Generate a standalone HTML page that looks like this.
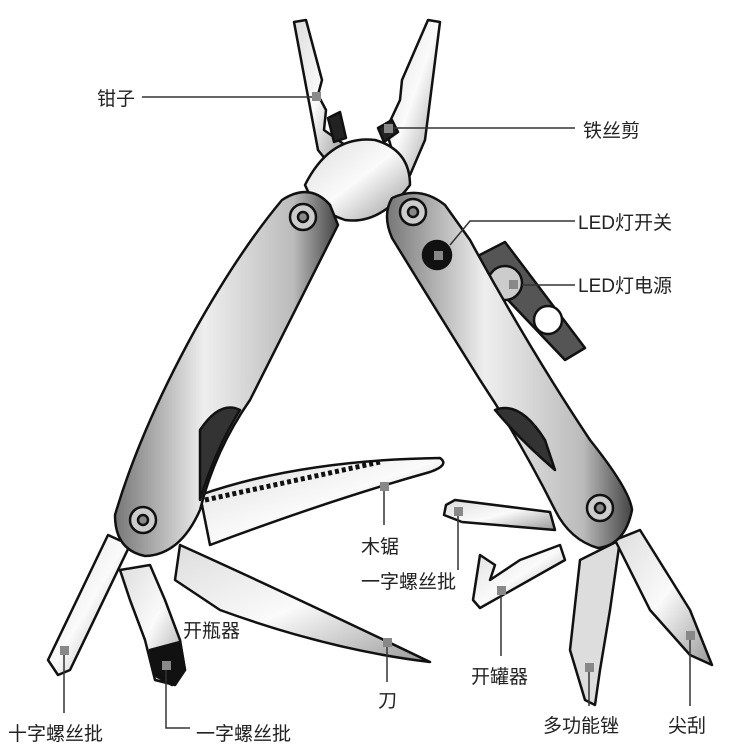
<!DOCTYPE html>
<html><head><meta charset="utf-8"><style>
html,body{margin:0;padding:0;background:#fff}
svg{display:block}
text{font-family:"Liberation Sans","Noto Sans CJK SC",sans-serif;font-size:19px;fill:#222}
</style></head><body>
<svg width="750" height="750" viewBox="0 0 750 750" xmlns="http://www.w3.org/2000/svg">
<defs>
<linearGradient id="g1" x1="0" y1="0" x2="1" y2="0"><stop offset="0" stop-color="#777"/><stop offset="0.4" stop-color="#eee"/><stop offset="0.8" stop-color="#bbb"/><stop offset="1" stop-color="#444"/></linearGradient>
<linearGradient id="g2" x1="0" y1="0" x2="1" y2="1"><stop offset="0" stop-color="#ddd"/><stop offset="0.5" stop-color="#fafafa"/><stop offset="1" stop-color="#999"/></linearGradient>
</defs>
<g stroke="#111" stroke-width="2.5" stroke-linejoin="round">
<!-- jaws -->
<path d="M294 22 L306 20 L322 80 L318 95 L326 110 L324 130 L345 145 L330 165 L318 150 Z" fill="url(#g2)"/>
<path d="M428 20 L440 22 L425 140 L410 175 L392 150 L386 130 L400 100 L402 80 Z" fill="url(#g2)"/>
<path d="M328 118 L340 112 L346 138 L334 142 Z" fill="#222"/>
<path d="M378 128 L392 120 L398 132 L384 142 Z" fill="#222"/>
<path d="M305 185 Q330 135 375 140 Q410 150 410 185 Q380 225 345 220 Q315 210 305 185 Z" fill="url(#g2)"/>
<!-- right-side battery box -->
<path d="M470 260 L505 242 L585 348 L565 360 Z" fill="#555"/>
<circle cx="505" cy="283" r="17" fill="#ccc"/>
<circle cx="548" cy="320" r="14" fill="#fff"/>
<!-- blades lower left -->
<path d="M200 495 Q300 460 440 458 Q450 465 430 472 Q330 500 210 545 Z" fill="url(#g2)"/>
<path d="M205 500 L380 462" stroke="#111" stroke-width="5" stroke-dasharray="4 3" fill="none"/>
<path d="M180 545 Q280 590 430 662 Q330 650 220 610 L175 580 Z" fill="url(#g2)"/>
<path d="M108 535 L130 545 L70 670 L58 675 L48 660 Z" fill="url(#g2)"/>
<path d="M120 570 L150 565 L165 600 L180 640 L185 670 L175 685 L155 680 L145 640 L130 600 Z" fill="url(#g2)"/>
<path d="M150 650 L180 642 L185 670 L172 685 L156 676 Z" fill="#111"/>
<!-- tools lower right -->
<path d="M446 505 L455 500 L550 512 L555 530 L462 522 L444 515 Z" fill="url(#g2)"/>
<path d="M480 555 L495 565 L490 580 L520 560 L560 545 L565 560 L480 608 L473 600 Z" fill="url(#g2)"/>
<path d="M580 560 L620 540 L610 610 L600 670 L595 705 L585 700 L570 650 Z" fill="#ddd"/>
<path d="M615 540 L640 530 L690 610 L712 665 L690 655 L650 610 Z" fill="url(#g2)"/>
<!-- left handle -->
<path d="M282 200 Q310 182 330 205 L338 225 Q300 300 250 400 Q215 450 200 510 Q180 555 145 556 Q115 550 115 515 Q140 430 195 330 Q240 250 282 200 Z" fill="url(#g1)"/>
<path d="M200 430 Q220 400 240 410 Q215 450 200 500 Z" fill="#333"/>
<!-- right handle -->
<path d="M392 198 Q420 185 445 205 L470 240 Q530 350 590 440 Q630 490 632 510 Q625 545 598 548 Q570 540 555 510 Q520 440 480 380 Q430 300 392 238 Q382 215 392 198 Z" fill="url(#g1)"/>
<path d="M495 410 Q520 400 545 440 L555 470 Q520 440 495 410 Z" fill="#333"/>
<!-- screws -->
<circle cx="303" cy="217" r="13" fill="#ccc"/><circle cx="303" cy="217" r="5" fill="#888"/>
<circle cx="413" cy="212" r="13" fill="#ccc"/><circle cx="413" cy="212" r="5" fill="#888"/>
<circle cx="437" cy="255" r="14" fill="#111"/>
<circle cx="143" cy="520" r="13" fill="#ccc"/><circle cx="143" cy="520" r="5" fill="#888"/>
<circle cx="600" cy="508" r="13" fill="#ccc"/><circle cx="600" cy="508" r="5" fill="#888"/>
</g>
<!-- leaders -->
<g stroke="#333" stroke-width="1.5" fill="none">
<path d="M142 97 H312"/><path d="M392 128 H575"/>
<path d="M450 245 L470 221 H575"/><path d="M522 285 H575"/>
<path d="M384 490 V525"/><path d="M458 515 V570"/>
<path d="M501 593 V656"/><path d="M387 643 V682"/>
<path d="M64 650 V713"/><path d="M166 668 V728 H190"/>
<path d="M589 668 V706"/><path d="M690 636 V706"/>
</g>
<g fill="#888">
<rect x="312" y="92" width="9" height="9"/><rect x="384" y="124" width="9" height="9"/>
<rect x="434" y="251" width="9" height="9"/><rect x="509" y="280" width="9" height="9"/>
<rect x="380" y="482" width="9" height="9"/><rect x="454" y="507" width="9" height="9"/>
<rect x="497" y="586" width="9" height="9"/><rect x="383" y="638" width="9" height="9"/>
<rect x="60" y="646" width="9" height="9"/><rect x="162" y="661" width="9" height="9"/>
<rect x="585" y="663" width="9" height="9"/><rect x="686" y="631" width="9" height="9"/>
</g>
<text x="97" y="105">钳子</text>
<text x="583" y="137">铁丝剪</text>
<text x="578" y="229">LED灯开关</text>
<text x="578" y="292">LED灯电源</text>
<text x="361" y="553">木锯</text>
<text x="361" y="588">一字螺丝批</text>
<text x="183" y="637">开瓶器</text>
<text x="471" y="683">开罐器</text>
<text x="378" y="707">刀</text>
<text x="8" y="740">十字螺丝批</text>
<text x="196" y="740">一字螺丝批</text>
<text x="543" y="732">多功能锉</text>
<text x="668" y="732">尖刮</text>
</svg>
</body></html>
